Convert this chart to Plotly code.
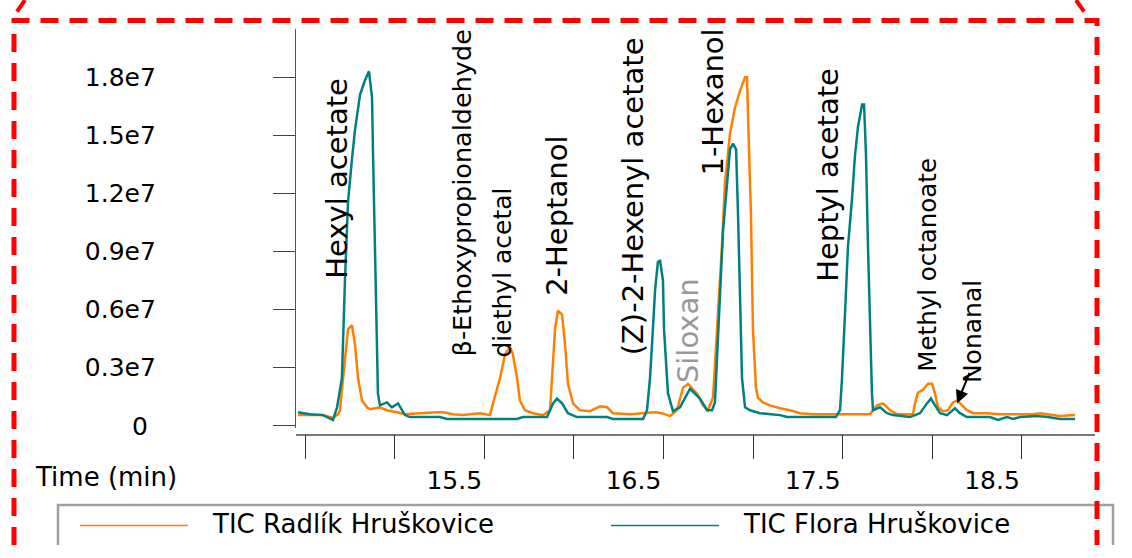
import plotly.graph_objects as go

W, H = 1132, 558

# Retention time (min) and total ion current (counts) for each sample
radlik_time = [14.461, 14.600, 14.656, 14.684, 14.695, 14.723, 14.740, 14.762, 14.779, 14.796,
               14.818, 14.846, 14.863, 14.918, 14.957, 15.013, 15.058, 15.236, 15.270, 15.326,
               15.381, 15.476, 15.532, 15.549, 15.588, 15.616, 15.644, 15.660, 15.683, 15.699,
               15.727, 15.772, 15.828, 15.867, 15.878, 15.895, 15.911, 15.934, 15.951, 15.967,
               15.995, 16.034, 16.090, 16.146, 16.185, 16.218, 16.313, 16.408, 16.453, 16.492,
               16.536, 16.575, 16.609, 16.637, 16.687, 16.720, 16.748, 16.776, 16.804, 16.826,
               16.843, 16.871, 16.899, 16.927, 16.955, 16.966, 16.972, 16.988, 16.999, 17.016,
               17.027, 17.055, 17.094, 17.150, 17.206, 17.262, 17.334, 17.485, 17.652, 17.691,
               17.725, 17.764, 17.803, 17.892, 17.903, 17.920, 17.948, 17.976, 17.998, 18.015,
               18.031, 18.059, 18.087, 18.115, 18.138, 18.165, 18.193, 18.227, 18.305, 18.377,
               18.562, 18.601, 18.640, 18.712, 18.796]
radlik_tic = [5.55e5, 5.55e5, 4.03e5, 6.05e5, 8.07e5, 3.328e6, 4.992e6, 5.193e6, 4.185e6, 2.471e6,
              1.311e6, 9.58e5, 8.57e5, 9.58e5, 8.07e5, 7.06e5, 6.05e5, 7.06e5, 7.06e5, 6.05e5,
              5.55e5, 6.55e5, 5.55e5, 1.160e6, 2.471e6, 3.681e6, 4.084e6, 3.681e6, 2.471e6, 1.311e6,
              8.07e5, 6.55e5, 5.55e5, 8.07e5, 2.471e6, 4.992e6, 5.950e6, 5.748e6, 4.185e6, 2.168e6,
              1.160e6, 8.07e5, 7.56e5, 1.008e6, 9.58e5, 6.55e5, 6.05e5, 6.55e5, 7.06e5, 6.55e5,
              5.04e5, 8.07e5, 1.966e6, 2.168e6, 1.664e6, 1.059e6, 8.07e5, 1.462e6, 5.849e6, 9.227e6,
              1.2555e7, 1.5076e7, 1.6437e7, 1.7294e7, 1.8000e7, 1.8000e7, 1.5933e7, 1.0891e7, 4.992e6, 1.966e6,
              1.462e6, 1.210e6, 1.059e6, 9.07e5, 8.07e5, 6.55e5, 6.05e5, 6.05e5, 6.05e5, 1.059e6,
              1.160e6, 8.07e5, 6.05e5, 6.05e5, 1.160e6, 1.714e6, 1.865e6, 2.168e6, 2.168e6, 1.664e6,
              9.58e5, 7.56e5, 8.07e5, 1.210e6, 1.311e6, 1.059e6, 8.07e5, 6.55e5, 6.55e5, 6.05e5,
              6.05e5, 6.55e5, 6.05e5, 5.04e5, 5.55e5]

flora_time = [14.461, 14.528, 14.600, 14.656, 14.679, 14.706, 14.723, 14.740, 14.762, 14.779,
              14.807, 14.835, 14.857, 14.874, 14.879, 14.891, 14.902, 14.907, 14.918, 14.957,
              14.985, 15.019, 15.058, 15.086, 15.253, 15.292, 15.532, 15.683, 15.716, 15.850,
              15.884, 15.906, 15.934, 15.967, 16.017, 16.185, 16.218, 16.386, 16.408, 16.425,
              16.441, 16.453, 16.469, 16.481, 16.497, 16.503, 16.514, 16.525, 16.553, 16.592,
              16.648, 16.704, 16.743, 16.771, 16.787, 16.799, 16.815, 16.832, 16.854, 16.871,
              16.888, 16.905, 16.916, 16.927, 16.938, 16.955, 16.983, 17.038, 17.150, 17.189,
              17.462, 17.485, 17.496, 17.513, 17.529, 17.552, 17.568, 17.585, 17.608, 17.619,
              17.630, 17.641, 17.652, 17.663, 17.669, 17.708, 17.747, 17.780, 17.875, 17.931,
              17.970, 17.992, 18.015, 18.043, 18.082, 18.126, 18.154, 18.193, 18.322, 18.366,
              18.416, 18.450, 18.489, 18.584, 18.645, 18.712, 18.796]
flora_tic = [7.06e5, 6.05e5, 5.55e5, 3.03e5, 9.58e5, 2.471e6, 7.513e6, 1.1546e7, 1.3765e7, 1.5277e7,
             1.7092e7, 1.7849e7, 1.8302e7, 1.6941e7, 1.4269e7, 9.227e6, 4.185e6, 1.664e6, 1.059e6, 1.210e6,
             9.58e5, 1.160e6, 5.55e5, 4.54e5, 4.54e5, 3.53e5, 3.53e5, 3.53e5, 4.54e5, 4.54e5,
             1.160e6, 1.412e6, 1.160e6, 6.55e5, 4.54e5, 4.54e5, 3.53e5, 3.53e5, 8.07e5, 2.471e6,
             4.992e6, 7.008e6, 8.471e6, 8.521e6, 7.513e6, 4.992e6, 3.328e6, 1.664e6, 7.56e5, 9.58e5,
             1.916e6, 1.412e6, 8.07e5, 8.07e5, 1.210e6, 3.328e6, 6.706e6, 1.0034e7, 1.2252e7, 1.4269e7,
             1.4571e7, 1.4269e7, 1.0891e7, 6.706e6, 2.471e6, 9.58e5, 8.07e5, 6.55e5, 5.55e5, 4.54e5,
             4.54e5, 8.07e5, 2.471e6, 5.849e6, 9.227e6, 1.1748e7, 1.3916e7, 1.5429e7, 1.6588e7, 1.6588e7,
             1.3916e7, 9.227e6, 4.992e6, 1.664e6, 8.07e5, 9.58e5, 6.55e5, 5.55e5, 4.54e5, 6.55e5,
             1.160e6, 1.412e6, 1.059e6, 6.55e5, 5.55e5, 9.07e5, 6.55e5, 4.54e5, 4.54e5, 3.03e5,
             4.54e5, 3.53e5, 4.54e5, 5.04e5, 4.54e5, 3.53e5, 3.53e5]

series_names = ["TIC Radlík Hruškovice", "TIC Flora Hruškovice"]
series_colors = ["#ff8000", "#008080"]

y_tick_vals = [0, 3e6, 6e6, 9e6, 1.2e7, 1.5e7, 1.8e7]
y_tick_text = ["0 ", "0.3e7", "0.6e7", "0.9e7", "1.2e7", "1.5e7", "1.8e7"]
x_tick_vals = [14.5, 15.0, 15.5, 16.0, 16.5, 17.0, 17.5, 18.0, 18.5]
x_tick_text = ["", "", "15.5", "", "16.5", "", "17.5", "", "18.5"]

# Compound names written vertically above their peaks
peak_names = ["Hexyl acetate", "β-Ethoxypropionaldehyde", "diethyl acetal", "2-Heptanol",
              "(Z)-2-Hexenyl acetate", "Siloxan", "1-Hexanol", "Heptyl acetate",
              "Methyl octanoate", "Nonanal"]

FONT = "DejaVu Sans"


def px(x):
    return x / W


def py(y):
    return 1 - y / H


fig = go.Figure()
for t, v, name, color in [(radlik_time, radlik_tic, series_names[0], series_colors[0]),
                          (flora_time, flora_tic, series_names[1], series_colors[1])]:
    fig.add_trace(go.Scatter(x=t, y=v, mode="lines", name=name,
                             line=dict(color=color, width=2.5), showlegend=False))

# label layout: (center x px, center y px, font size, color)
label_style = [(337, 183, 29, "black"), (462, 198, 25.5, "black"), (502, 279, 25, "black"),
               (557, 221, 29, "black"), (633, 201, 29, "black"), (688, 339, 29, "#999999"),
               (713, 105, 29, "black"), (828, 179, 29, "black"), (928, 271, 24.5, "black"),
               (972, 340, 25, "black")]

annotations = []
for name, (cx, cy, size, color) in zip(peak_names, label_style):
    annotations.append(dict(text=name, x=px(cx), y=py(cy), xref="paper", yref="paper",
                            xanchor="center", yanchor="middle", textangle=-90,
                            showarrow=False, font=dict(family=FONT, size=size, color=color)))

# arrow pointing at the nonanal peak
annotations.append(dict(text="", x=18.138, y=1.16e6, xref="x", yref="y",
                        ax=13, ay=-32, showarrow=True, arrowhead=2, arrowsize=1.3,
                        arrowwidth=2, arrowcolor="black", standoff=0))

annotations.append(dict(text="Time (min)", x=px(106), y=py(488), xref="paper", yref="paper",
                        xanchor="center", yanchor="middle", showarrow=False,
                        font=dict(family=FONT, size=26, color="black")))

# legend drawn as a framed strip along the bottom edge
legend_rows = [(80, 188, 210), (611, 719, 741)]
shapes = [dict(type="path", xref="paper", yref="paper",
               path=f"M {px(58)},{py(H)} L {px(58)},{py(517)} L {px(1113)},{py(517)} L {px(1113)},{py(H)}",
               line=dict(color="#a0a0a0", width=2.5))]
for (x0, x1, xt), name, color in zip(legend_rows, series_names, series_colors):
    shapes.append(dict(type="line", xref="paper", yref="paper", x0=px(x0), x1=px(x1),
                       y0=py(538), y1=py(538), line=dict(color=color, width=1.5)))
    annotations.append(dict(text=name, x=px(xt), y=py(537), xref="paper", yref="paper",
                            xanchor="left", yanchor="middle", showarrow=False,
                            font=dict(family=FONT, size=26, color="black")))

# red dashed frame around the figure
red = dict(color="#ff0000", width=5, dash="18px,11px")
shapes.append(dict(type="path", xref="paper", yref="paper",
                   path=f"M {px(14)},{py(H)} L {px(14)},{py(21)} L {px(1097)},{py(21)} L {px(1097)},{py(H)}",
                   line=red))
shapes.append(dict(type="line", xref="paper", yref="paper", x0=px(17), y0=py(12),
                   x1=px(25), y1=py(0), line=dict(color="#ff0000", width=4)))
shapes.append(dict(type="line", xref="paper", yref="paper", x0=px(1076), y0=py(0),
                   x1=px(1084), y1=py(12), line=dict(color="#ff0000", width=4)))

fig.update_layout(
    width=W, height=H,
    margin=dict(l=0, r=0, t=0, b=0),
    paper_bgcolor="white", plot_bgcolor="white",
    font=dict(family=FONT, size=25, color="black"),
    showlegend=False,
    xaxis=dict(domain=[px(296), px(1095)], range=[14.4498, 18.9074],
               anchor="free", position=py(445),
               showline=True, linecolor="#777777", linewidth=1.5,
               ticks="outside", ticklen=24, tickwidth=1.2, tickcolor="#333333",
               tickvals=x_tick_vals, ticktext=x_tick_text, ticklabelshift=-30,
               showgrid=False, zeroline=False,
               tickfont=dict(family=FONT, size=25, color="black")),
    yaxis=dict(domain=[py(438), py(30)], range=[-1.0e5, 2.047e7],
               showline=True, linecolor="#555555", linewidth=1.2,
               ticks="outside", ticklen=22, tickwidth=1.2, tickcolor="#444444",
               tickvals=y_tick_vals, ticktext=y_tick_text, ticklabelstandoff=112,
               showgrid=False, zeroline=False,
               tickfont=dict(family=FONT, size=25, color="black")),
    annotations=annotations,
    shapes=shapes,
)

fig.write_html("out.html")
